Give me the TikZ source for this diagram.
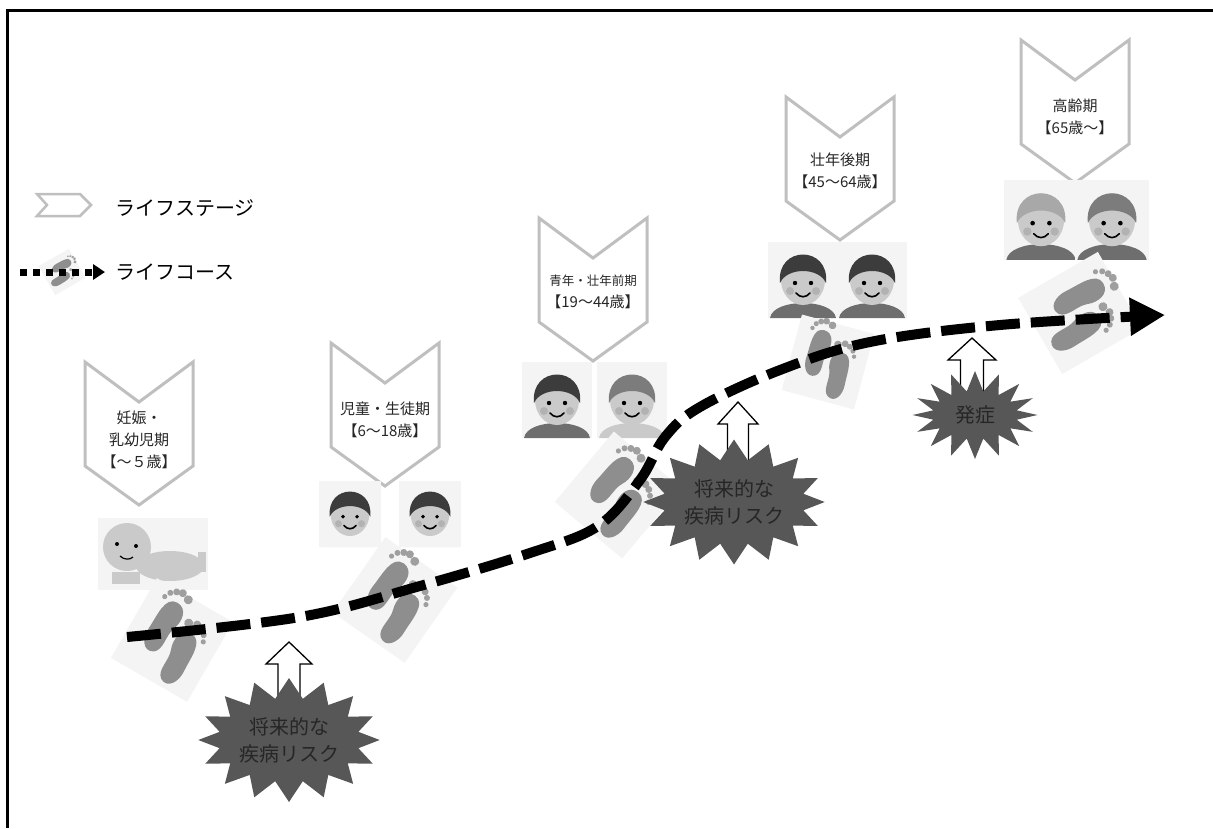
\documentclass[tikz,border=0pt]{standalone}
\usepackage{fontspec}
\setmainfont{Noto Sans CJK JP}
\usetikzlibrary{shapes.symbols,arrows.meta}

\definecolor{stagegray}{HTML}{BFBFBF}
\definecolor{burstgray}{HTML}{575757}
\definecolor{inkgray}{HTML}{262626}
\definecolor{footgray}{HTML}{8E8E8E}
\definecolor{skingray}{HTML}{CACACA}
\definecolor{hairdark}{HTML}{3C3C3C}
\definecolor{hairmid}{HTML}{7C7C7C}
\definecolor{hairlight}{HTML}{A8A8A8}
\definecolor{clothgray}{HTML}{6E6E6E}
\definecolor{photobg}{HTML}{F4F4F4}

% a left foot, toes up (y grows downwards)
\newcommand{\onefoot}{%
  \fill[footgray] (0,-26) .. controls (12,-26) and (14,-12) .. (10,-2)
    .. controls (6,8) and (12,22) .. (4,28)
    .. controls (-6,34) and (-13,22) .. (-12,10)
    .. controls (-11,-4) and (-14,-26) .. (0,-26) -- cycle;
  \foreach \tx/\ty/\tr in {8/-34/4.5, 0/-37/4, -6/-35/3.5, -11/-31/3, -14/-25/2.6}
    \fill[footgray!85] (\tx,\ty) circle (\tr pt);
}

% pair of footprints: x, y, rotation, scale
\newcommand{\feet}[4]{%
  \begin{scope}[shift={(#1,#2)}, rotate=#3, scale=#4]
    \fill[photobg] (-44,-46) rectangle (44,46);
    \begin{scope}[shift={(-14,-9)}] \onefoot \end{scope}
    \begin{scope}[shift={(14,11)}, xscale=-1] \onefoot \end{scope}
  \end{scope}}

% portrait: x, y, hair colour, clothes colour, scale
\newcommand{\face}[5]{%
  \begin{scope}[shift={(#1,#2)}, scale=#5]
    \fill[photobg] (-35,-38) rectangle (35,38);
    \fill[#4] (-33,38) .. controls (-30,18) and (30,18) .. (33,38) -- cycle;
    \fill[skingray] (0,0) ellipse (22pt and 25pt);
    \fill[#3] (-23,3) .. controls (-27,-35) and (27,-35) .. (23,3)
      .. controls (16,-13) and (-16,-13) .. cycle;
    \fill[black] (-8,3) circle (2.2pt) (8,3) circle (2.2pt);
    \fill[gray!60] (-13,11) circle (4pt) (13,11) circle (4pt);
    \draw[black, line width=1.6pt, line cap=round] (-7,13) .. controls (-3,18) and (3,18) .. (7,13);
  \end{scope}}

\begin{document}
\begin{tikzpicture}[x=1pt, y=-1pt,
    stage/.style={draw=stagegray, line width=3pt, fill=white, line join=miter},
    stagetext/.style={text=inkgray, font=\fontsize{15}{22}\selectfont, align=center, inner sep=0pt},
    legendtext/.style={text=black, font=\fontsize{20}{24}\selectfont, anchor=west, inner sep=0pt},
    risk/.style={starburst, starburst points=16, starburst point height=20pt, random starburst=0,
      fill=burstgray, text=inkgray, font=\fontsize{20}{27}\selectfont, align=center, inner sep=0pt},
    riskarrow/.style={fill=white, draw=black, line width=1.3pt, line join=miter},
    course/.style={line width=10pt, dash pattern=on 34pt off 11pt, -{Triangle[length=35pt,width=36pt]}},
    legendcourse/.style={line width=7pt, dash pattern=on 7pt off 6pt, -{Triangle[length=12pt,width=15pt]}}]

  \useasboundingbox (0,0) rectangle (1213,828);

  % Frame
  \draw[line width=3pt] (7.5,828) -- (7.5,10) -- (1213,10);

  % Legend
  \draw[stage, line width=2.5pt] (37,194) -- (80,194) -- (91,205) -- (80,216) -- (37,216) -- (47,205) -- cycle;
  \node[legendtext] (legstage) at (115,208) {ライフステージ};
  \feet{62}{272}{-60}{0.38}
  \coordinate (legstart) at (20,272);
  \node[legendtext] (legcourse) at (115,272) {ライフコース};
  \draw[legendcourse] (legstart) -- ([xshift=-10pt]legcourse.west);

  % Life stage chevrons
  \foreach \cx/\ty in {139/362, 385/343, 593/218, 840/97, 1075/40}
    \draw[stage] (\cx-54,\ty) -- (\cx,\ty+40) -- (\cx+54,\ty) -- (\cx+54,\ty+104)
      -- (\cx,\ty+143) -- (\cx-54,\ty+104) -- cycle;

  \node[stagetext] (stage1) at (139,440) {妊娠・\\乳幼児期\\【～５歳】};
  \node[stagetext] (stage2) at (385,420) {児童・生徒期\\【6～18歳】};
  \node[stagetext] (stage3) at (593,292) {{\fontsize{12.5}{20}\selectfont 青年・壮年前期}\\【19～44歳】};
  \node[stagetext] (stage4) at (840,171) {壮年後期\\【45～64歳】};
  \node[stagetext] (stage5) at (1075,117) {高齢期\\【65歳～】};

  % Baby
  \fill[photobg] (98,518) rectangle (208,590);
  \fill[skingray] (170,566) ellipse (34pt and 15pt);
  \fill[skingray] (198,552) rectangle (206,572);
  \fill[skingray] (112,572) rectangle (140,584);
  \fill[skingray] (127,547) circle (24pt);
  \fill[black] (117,544) circle (2pt) (136,546) circle (2pt);
  \draw[black, line width=1.2pt] (120,556) .. controls (124,560) and (130,560) .. (133,557);

  % People
  \face{350}{514}{hairdark}{photobg}{0.88}
  \face{430}{514}{hairdark}{photobg}{0.88}
  \face{557}{400}{hairdark}{clothgray}{1}
  \face{632}{400}{hairmid}{skingray}{1}
  \face{803}{280}{hairdark}{clothgray}{1}
  \face{872}{280}{hairdark}{clothgray}{1}
  \face{1041}{220}{hairlight}{clothgray}{1.05}
  \face{1112}{220}{hairmid}{clothgray}{1.05}

  % Footprints
  \feet{172}{640}{-30}{1}
  \feet{395}{600}{-35}{1}
  \feet{618}{495}{-40}{1}
  \feet{828}{362}{-15}{0.85}
  \feet{1080}{313}{-60}{1}

  % Life course
  \draw[course] plot[smooth, tension=0.6] coordinates {(127,637) (300,617) (420,586)
    (530,553) (598,526) (640,480) (665,437) (700,407)
    (780,370) (870,342) (1000,325) (1165,315)};

  % Risk arrows
  \foreach \ax/\tip/\hw/\sw in {289/642/23/11, 738/402/20/10.5, 972/338/24/11.5}
    \draw[riskarrow] (\ax,\tip) -- (\ax+\hw,\tip+22) -- (\ax+\sw,\tip+22) -- (\ax+\sw,\tip+70)
      -- (\ax-\sw,\tip+70) -- (\ax-\sw,\tip+22) -- (\ax-\hw,\tip+22) -- cycle;

  \node[risk, minimum width=156pt, minimum height=124pt] (risk1) at (289,740) {将来的な\\疾病リスク};
  \node[risk, minimum width=148pt, minimum height=125pt] (risk2) at (734,502) {将来的な\\疾病リスク};
  \node[risk, minimum width=125pt, minimum height=88pt] (onset) at (975,415) {発症};

\end{tikzpicture}
\end{document}
